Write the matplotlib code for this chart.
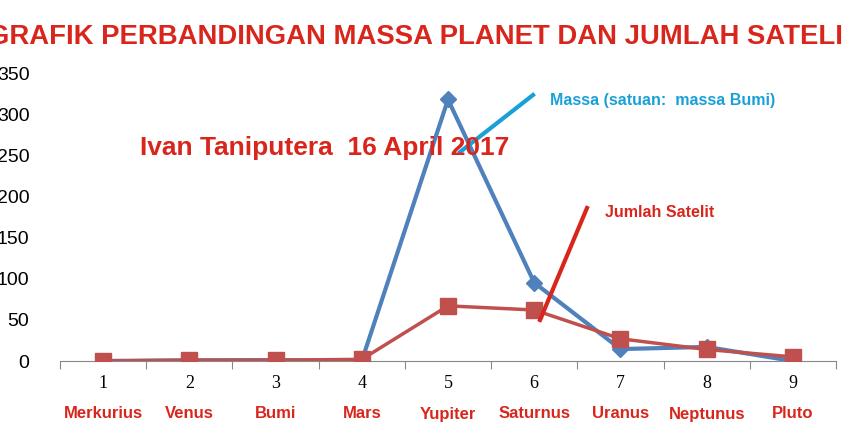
import numpy as np
import matplotlib.pyplot as plt
from matplotlib.lines import Line2D

planets = ['Merkurius', 'Venus', 'Bumi', 'Mars', 'Yupiter', 'Saturnus', 'Uranus', 'Neptunus', 'Pluto']
massa = [0.055, 0.815, 1.0, 0.107, 317.8, 95.2, 14.5, 17.1, 0.002]
satelit = [0, 1, 1, 2, 67, 62, 27, 14, 5]
yticks = [0, 50, 100, 150, 200, 250, 300, 350]

W, H = 843, 443
fig = plt.figure(figsize=(W / 100, H / 100), dpi=100)
ax = fig.add_axes([60 / W, 82 / H, 776 / W, 288 / H])

x = np.arange(1, 10)
ax.plot(x, massa, color='#4F81BD', lw=3, marker='D', ms=8, zorder=2)
ax.plot(x, satelit, color='#C0504D', lw=2.5, marker='s', ms=11, zorder=3)

ax.set_xlim(0.5, 9.5)
ax.set_ylim(0, 350)
ax.set_yticks(yticks)
ax.set_yticklabels([str(v) for v in yticks], fontsize=14, family='Liberation Sans')
ax.tick_params(axis='y', length=0, pad=22)
ax.set_xticks(np.arange(0.5, 10, 1))
ax.set_xticklabels([])
ax.tick_params(axis='x', length=6, direction='out', color='#888888')
for s in ['top', 'right', 'left']:
    ax.spines[s].set_visible(False)
ax.spines['bottom'].set_color('#888888')

def fx(px):
    return px / W

def fy(py):
    return 1 - py / H

for i, name in enumerate(planets):
    xp = 103 + i * 86.25
    fig.text(fx(xp), fy(383), str(i + 1), ha='center', va='center', fontsize=13,
             family='Liberation Serif')
    fig.text(fx(xp), fy(414), name, ha='center', va='center', fontsize=12,
             color='#D9261C', weight='bold', family='Liberation Sans')

fig.text(fx(-12), fy(37), 'GRAFIK PERBANDINGAN MASSA PLANET DAN JUMLAH SATELIT', ha='left',
         va='center', fontsize=19.8, color='#D9261C', weight='bold', family='Liberation Sans')
fig.text(fx(140), fy(148), 'Ivan Taniputera  16 April 2017', ha='left', va='center',
         fontsize=19, color='#D9261C', weight='bold', family='Liberation Sans')
fig.text(fx(550), fy(100), 'Massa (satuan:  massa Bumi)', ha='left', va='center',
         fontsize=11.5, color='#1AA0D8', weight='bold', family='Liberation Sans')
fig.text(fx(605), fy(213), 'Jumlah Satelit', ha='left', va='center',
         fontsize=11.5, color='#D9261C', weight='bold', family='Liberation Sans')

fig.add_artist(Line2D([fx(460), fx(533)], [fy(152), fy(95)], color='#1AA0D8', lw=3))
fig.add_artist(Line2D([fx(540), fx(587)], [fy(320), fy(208)], color='#D9261C', lw=3))

fig.savefig('out.png', dpi=100)
